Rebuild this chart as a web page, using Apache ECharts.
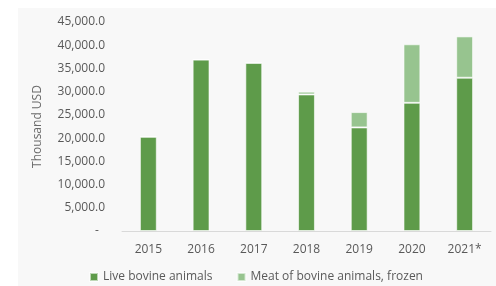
<!DOCTYPE html>
<html>
<head>
<meta charset="utf-8">
<script src="https://cdn.jsdelivr.net/npm/echarts@6/dist/echarts.min.js"></script>
<style>
	html, body { margin: 0; padding: 0; background: #fff; }
	#wrap { position: absolute; left: 18px; top: 8px; width: 478px; height: 278px; background: #f8f8f8; }
	#chart { position: absolute; left: 0; top: 0; width: 496px; height: 286px; }
</style>
</head>
<body>
<div id="wrap"></div>
<div id="chart"></div>
<script>
var years = ["2015", "2016", "2017", "2018", "2019", "2020", "2021*"];
var liveBovine = [20300, 36900, 36200, 29400, 22300, 27600, 33000];
var meatFrozen = [0, 0, 0, 600, 3300, 12600, 8900];

function StackBar(dom) {
	var myChart = echarts.init(dom, null, { renderer: "canvas" });
	var font = "'Open Sans', sans-serif";
	var option = {
		animation: false,
		grid: { left: 122, right: 5, top: 22, bottom: 55 },
		legend: {
			bottom: -2,
			left: 84,
			itemWidth: 8,
			itemHeight: 8,
			itemGap: 24,
			icon: "rect",
			textStyle: { color: "#595959", fontSize: 12, fontFamily: font }
		},
		xAxis: {
			type: "category",
			data: years,
			axisLine: { lineStyle: { color: "#d9d9d9" } },
			axisTick: { show: false },
			axisLabel: { color: "#595959", fontSize: 12, fontFamily: font, margin: 13 }
		},
		yAxis: {
			type: "value",
			min: 0,
			max: 45000,
			interval: 5000,
			name: "Thousand USD",
			nameLocation: "middle",
			nameGap: 78,
			nameTextStyle: { color: "#6b6b6b", fontSize: 12, fontFamily: font },
			splitLine: { show: false },
			axisLine: { show: false },
			axisTick: { show: false },
			axisLabel: {
				color: "#595959",
				fontSize: 12,
				fontFamily: font,
				margin: 17,
				formatter: function (v) {
					if (v === 0) return "-  ";
					return v.toLocaleString("en-US") + ".0";
				}
			}
		},
		series: [
			{
				name: "Live bovine animals",
				type: "bar",
				stack: "total",
				barWidth: "32%",
				data: liveBovine,
				itemStyle: { color: "#5e9b4a", borderColor: "rgba(255,255,255,0.6)", borderWidth: 1 }
			},
			{
				name: "Meat of bovine animals, frozen",
				type: "bar",
				stack: "total",
				data: meatFrozen,
				itemStyle: { color: "#97c48f", borderColor: "rgba(255,255,255,0.6)", borderWidth: 1 }
			}
		]
	};
	myChart.setOption(option);
	window.addEventListener("resize", myChart.resize);
}

StackBar(document.getElementById("chart"));
</script>
</body>
</html>
